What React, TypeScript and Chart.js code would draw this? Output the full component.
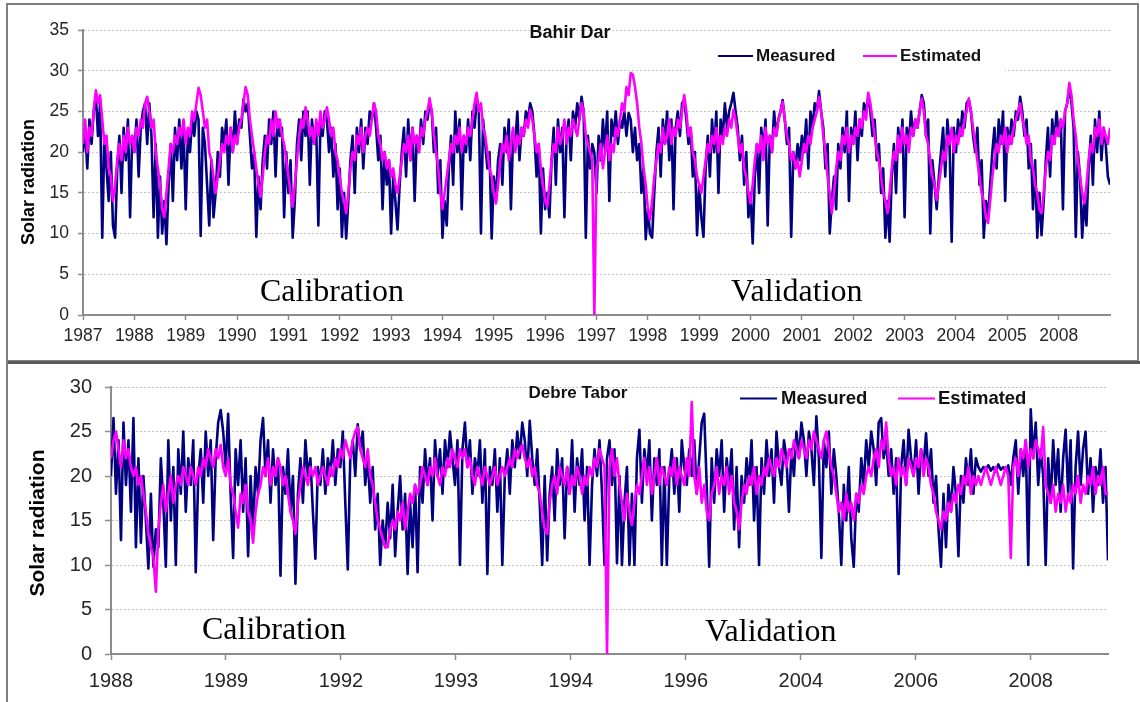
import React, { useEffect, useRef } from 'react';
import { Chart, registerables } from 'chart.js';

Chart.register(...registerables);

// ---------------- DATA ----------------
const topTickLabels = ['1987','1988','1989','1990','1991','1992','1993','1994','1995','1996','1997','1998','1999','2000','2001','2002','2003','2004','2005','2008'];

const topEstimated = [
21,24,20,23,22,25,27.6,26,27,
24,21,22,18,17,14,16,
19,21,19,22,20,23,21,22,20,23,22,24,23,26,26.8,25,
23,24,20,18,16,13,12,15,
18,21,20,22,21,23,22,24,21,23,22,25,24,26,27.9,27,25,
23,24,20,19,17,15,17,
19,21,20,22,21,23,20,22,21,23,24,26,28,27,
24,22,20,18,16,14.5,17,
20,22,21,24,22,25,23,24,22,21,19,17,
15,13.3,16,
19,22,24,23,25.5,24,22,23,21,24,22,25,23,24,25.5,24,
22,23,20,19,17,15,14,12.5,15,
18,20,19,22,21,23,20,22,23,22,24,26,25,
22,21,19,20,18,19,17,18,16,15,17,
19,21,20,22,19,23,21,22,20,23,22,24,25,26.6,25,
22,20,18,15,13,15,17,
19,21,20,22,21,23,20,22,21,23,22,24,26,
27.3,25,26,
23,22,20,18,17,15,13.7,16,
19,21,20,22,19,21,23,20,22,21,23,22,24,23,25.2,24,
22,20,21,18,16,14,13.3,16,
19,21,20,23,21,22,24,21,23,22,24,23,22,24,26,25,
22,21,20,19,0,18,
19,21,18,20,22,19,21,20,23,22,24,26,25,28,27,29.7,29.5,28,26,
23,21,18,16,13,11.7,14,
17,19,21,20,23,21,22,24,21,23,22,24,23,25,27,25,
22,23,20,19,17,16,15,17,
19,21,20,22,21,23,20,22,21,23,22,24,23,25.2,24,
22,20,21,18,17,15,13.7,16,
19,21,20,22,19,23,21,22,20,23,22,24,25,26.2,24,
22,21,19,20,18,19,17,19,
21,20,22,21,23,24,25,26.8,25,
22,20,17,15,12.5,15,
18,20,19,22,21,23,20,22,21,23,22,24,23,25,24,27.3,26,
24,22,20,19,17,15,14,12.5,15,
18,20,19,22,20,23,21,22,20,23,22,24,23,25,26.6,25,
22,21,19,17,16,14.1,16,
18,20,19,22,21,23,20,22,21,23,22,24,25,26.6,25,
23,21,19,17,15,14,12,11.3,14,
17,19,21,20,22,21,23,20,22,21,23,24,25,26,24,
23,21,22,19,18,16,15,13,12.5,15,
18,20,19,22,21,23,22,24,23,25,26,28.5,27,
24,22,19,17,15,13.7,16,
19,21,20,23,22,24,21,23,22,21,23
];

const topMeasured = [
20,23,18,24,21,25,27,22,26,
9.5,22,18,14,20,11,9.5,
18,22,15,23,19,24,12,22,20,24,17,23,25,26,21,26,
22,12,21,9.5,17,10,14,8.7,
16,21,14,23,19,24,18,23,13,22,20,24,22,25,24,9.7,23,
21,16,11,19,12,15,20,
17,23,21,24,16,23,20,25,21,24,23,26.5,25,26,
22,18,20,9.6,17,13,19,
22,18,24,21,25,17,24,22,23,12,20,15,
19,9.5,14,
21,24,19,25,22,25,16,24,21,23,11,24,22,25,24,20,
23,17,21,13,18,9.6,15,9.4,14,
19,22,15,23,20,24,18,23,21,25,24,26,23,
19,22,13,20,16,19,10,17,14,10.5,16,
20,23,17,24,19,23,14,22,20,24,21,25,24,26,25,
20,23,15,19,9.5,14,11,
18,22,16,25,20,24,13,22,20,24,19,25,23,
26.4,25,10,
24,21,18,20,9.4,17,14,19,
21,16,23,20,24,13,22,21,25,19,23,22,25,24,26,25,
22,17,21,10,18,13,15,12,
19,23,16,24,20,23,12,22,24,19,25,23,26,24,26.8,25,
9.5,22,18,21,20,15,
22,19,24,20,25,14,24,22,25,21,24,23,25,22,24.8,24,20,23,19,
21,15,18,9.3,13,10,9.5,
15,20,23,17,24,21,25,19,24,13,23,25,22,26,26.4,24,
21,23,17,20,9.8,16,12,9.6,
18,22,17,24,20,25,15,24,22,26,23,25,26,27.3,25,
23,19,22,16,20,12,15,8.8,
17,21,15,23,20,24,11,22,20,25,22,24,25,26.4,24,
21,23,9.6,20,18,21,19,22,
20,24,18,25,23,26,25,27.5,25,
23,18,21,10,14,17,
13,21,18,23,20,25,14,23,21,25,19,24,22,26,25,26.8,25,
22,24,19,21,15,18,9.5,14,9,
17,21,15,23,20,24,12,23,21,25,22,24,23,25,27,26,
22,24,10,19,16,13,17,
20,23,17,24,21,9,23,20,24,22,25,23,26,26.4,25,
22,20,23,16,19,9.5,14,12,16,
20,23,18,24,21,25,14,23,21,24,22,25,24,26.8,25,
22,24,18,21,13,19,9.5,15,9.8,14,
19,23,17,24,21,25,22,24,13,25,26,28,26,
23,9.6,20,17,9.5,14,11,
18,22,16,24,20,25,19,23,21,17,16
];

const bottomTickLabels = ['1988','1989','1992','1993','1994','1996','2004','2006','2008'];

const bottomEstimated = [
22,24,25,23,21,24,22,23,21,20,
21,19,20,18,16,
13.5,12,11,7,14,
17,19,16,18,20,17,19,
20,19,21,20,19,21,20,19,21,
20,22,21,23,22,21,23,22,23.5,
21,20,22,19,18,16,
14.2,18,17,19,16,15,12.5,16,18,
19,21,20,22,19,21,20,22,21,19,20,
18,16,15,13.5,17,
19,21,20,19,21,20,21,19,20,21,20,19,21,
20,22,21,23,22,24,23,22,24,25,25.5,23,
22,21,23,20,19,17,
15,14,13,12,12,14,15,14,16,
15,17,14,16,18,17,19,18,
19,21,20,19,21,20,22,20,19,21,20,22,
21,23,22,21,23,22,23,21,22,
20,19,21,20,19,21,20,19,20,21,19,20,21,20,
21,22,21,23,22,23,23.5,22,21,
22,20,21,19,18,
16,14,13.5,17,
19,20,18,21,20,19,21,18,20,19,21,20,18,20,19,21,20,
22,21,23,22,21,
0,
21,23,20,22,19,17,15,18,16,14.5,
17,19,18,20,22,19,21,18,20,22,19,21,20,
19,21,20,22,19,21,20,19,22,20,
28.3,
20,18,21,17,19,16,15,18,
19,21,18,20,19,21,18,20,17,16,
14,17,19,18,20,19,21,18,20,
19,21,20,22,21,20,22,21,23,22,21,23,22,24,23,22,24,23,
22,24,23,25,24,23,22,24,25,23,21,20,18,
16,17,15,18,16,17,15,18,17,19,18,20,
21,20,22,23,21,24,23,26,
22,20,21,19,22,20,21,19,22,21,20,22,21,23,20,22,21,
19,18,16,15,14,16,15,17,16,18,
17,19,18,20,19,21,18,20,19,
20,19,20,21,20,19,20,21,20,19,20,21,20,
10.8,
21,22,20,23,22,24,21,23,22,24,23,22,
25.5,
19,18,17,19,16,18,17,19,16,18,17,19,18,20,17,
19,18,20,19,21,18,20,19,21,18,18
];

const bottomMeasured = [
20,26.5,18,24,12.8,26,19,24,16,26.5,
12,22,12.5,20,15,
9.6,18,9.8,14,12,
22,17,9.8,24,15,21,10,
23,18,25,16,22,19,24,9.2,20,
23,17,25,20,24,12.8,22,26,27.4,
25,21,27,18,10.8,23,
19,24,16,22,11,20,14,21,18,
24,26.5,20,24,17,23,19,22,8.8,21,18,
23,16,20,7.9,18,
22,17,24,20,22,16,10.7,21,19,23,18,22,20,
24,19,23,21,25,17,9.5,22,24,20,25.8,23,
25,19,22,17,21,14,
18,10,15,12,17,13,19,11,16,
20,14,18,9,17,12,19,9.2,
21,17,23,19,22,15,24,20,23,18,24,21,
25,22,19,24,10,23,26,21,24,
18,22,20,24,17,23,9,21,19,23,16,22,10,20,
23,18,24,21,25,22,26,24,20,
26.2,22,19,23,17,
10,20,10.5,18,
21,15,23,19,22,13,21,18,24,16,22,19,23,15,21,10,19,
23,20,24,18,10,
22,24,19,23,10.2,20,10,17,21,10,18,
10,22,25.2,17,23,20,24,15,22,19,23,10,21,
10,20,23,18,22,16,24,21,19,23,
20,24,18,22,26,27,19,9.8,22,
17,23,20,24,16,22,19,23,14,21,
12,20,17,22,19,24,15,21,10,
22,18,24,20,23,17,25,21,19,24,22,16,23,20,25,22,26,24,
20,25,23,19,26.7,22,10.8,24,21,25,18,23,20,
16,10,19,15,21,13,9.8,18,16,22,19,24,
21,25,23,19,26,26.5,22,24,
20,23,18,22,9,21,24,19,25.2,22,20,24,18,23,21,24.8,20,
23,17,20,14,9.8,18,12,19,16,21,
18,11,20,17,22,19,23,18,22,
21,20.5,21,20.8,21.2,20.6,21,20.5,21.3,20.7,21,20.6,21.2,
19,22,24,18,23,20,24,10,27.5,22,26,19,23,
20,10,22,17,24,19,23,16,22,25.2,18,24,9.6,21,25,19,
23,25,18,22,16,21,19,23,17,21,10.5
];

const TOP_X_MAX = 20;
const BOTTOM_X_MAX = 8.672;

// ---------------- STYLE ----------------
const SANS = '"Liberation Sans", Arial, Helvetica, sans-serif';
const SERIF = '"Liberation Serif", "Times New Roman", serif';
const NAVY = '#000080';
const MAGENTA = '#FF00FF';
const AXIS = '#8c8c8c';
const GRID = '#c4c4c4';
const TICK_TEXT = '#262626';

function toPoints(values: number[], xMax: number) {
  const step = xMax / (values.length - 1);
  return values.map((y, i) => ({ x: i * step, y }));
}

const topPanel = {
  top: 0, w: 1140, h: 362,
  area: { left: 83, top: 30, right: 1110, bottom: 315 },
  xH: 40,
  yMax: 35,
  xMax: TOP_X_MAX,
  tickLabels: topTickLabels,
  measured: topMeasured,
  estimated: topEstimated,
  tickSize: 17.5, xPad: 6, yPad: 9, tickLen: 5,
  lineM: 2.6, lineE: 2.6,
  yTitle: { x: 29, y: 182, size: 18 },
  title: { text: 'Bahir Dar', x: 570, y: 33, size: 18 },
  legend: { box: [690, 38, 315, 36], y: 56, size: 17, m: [718, 753, 756], e: [863, 897, 900] },
  notes: [ { text: 'Calibration', x: 260, y: 301 }, { text: 'Validation', x: 731, y: 301 } ],
};

const bottomPanel = {
  top: 362, w: 1140, h: 340,
  area: { left: 111, top: 25, right: 1108, bottom: 292 },
  xH: 40,
  yMax: 30,
  xMax: BOTTOM_X_MAX,
  tickLabels: bottomTickLabels,
  measured: bottomMeasured,
  estimated: bottomEstimated,
  tickSize: 20, xPad: 9, yPad: 13, tickLen: 6,
  lineM: 2.6, lineE: 2.6,
  yTitle: { x: 38, y: 161, size: 21 },
  title: { text: 'Debre Tabor', x: 578, y: 31, size: 17 },
  legend: { box: null, y: 36.5, size: 18.5, m: [740, 777, 781], e: [898, 935, 938] },
  notes: [ { text: 'Calibration', x: 202, y: 277 }, { text: 'Validation', x: 705, y: 279 } ],
};

function decorPlugin(p: any) {
  return {
    id: 'decor',
    afterDraw(chart: any) {
      const ctx = chart.ctx;
      ctx.save();
      const lg = p.legend;
      if (lg.box) {
        ctx.fillStyle = '#ffffff';
        ctx.fillRect(lg.box[0], lg.box[1], lg.box[2], lg.box[3]);
      }
      ctx.lineWidth = 2;
      ctx.strokeStyle = NAVY;
      ctx.beginPath(); ctx.moveTo(lg.m[0], lg.y); ctx.lineTo(lg.m[1], lg.y); ctx.stroke();
      ctx.strokeStyle = MAGENTA;
      ctx.beginPath(); ctx.moveTo(lg.e[0], lg.y); ctx.lineTo(lg.e[1], lg.y); ctx.stroke();
      ctx.fillStyle = '#111111';
      ctx.font = `bold ${lg.size}px ${SANS}`;
      ctx.textBaseline = 'middle';
      ctx.textAlign = 'left';
      ctx.fillText('Measured', lg.m[2], lg.y);
      ctx.fillText('Estimated', lg.e[2], lg.y);
      // title
      ctx.font = `bold ${p.title.size}px ${SANS}`;
      ctx.textAlign = 'center';
      ctx.fillText(p.title.text, p.title.x, p.title.y);
      // y title
      ctx.save();
      ctx.translate(p.yTitle.x, p.yTitle.y);
      ctx.rotate(-Math.PI / 2);
      ctx.font = `bold ${p.yTitle.size}px ${SANS}`;
      ctx.fillStyle = '#000000';
      ctx.fillText('Solar radiation', 0, 0);
      ctx.restore();
      // notes
      ctx.font = `32px ${SERIF}`;
      ctx.fillStyle = '#000000';
      ctx.textAlign = 'left';
      ctx.textBaseline = 'alphabetic';
      for (const n of p.notes) ctx.fillText(n.text, n.x, n.y);
      ctx.restore();
    },
  };
}

function buildConfig(p: any): any {
  const nLabels = p.tickLabels.length;
  return {
    type: 'line',
    data: {
      datasets: [
        {
          label: 'Estimated',
          data: toPoints(p.estimated, p.xMax),
          borderColor: MAGENTA,
          borderWidth: p.lineE,
          pointRadius: 0,
          tension: 0,
          borderJoinStyle: 'round',
          order: 0,
        },
        {
          label: 'Measured',
          data: toPoints(p.measured, p.xMax),
          borderColor: NAVY,
          borderWidth: p.lineM,
          pointRadius: 0,
          tension: 0,
          borderJoinStyle: 'round',
          order: 1,
        },
      ],
    },
    options: {
      animation: false,
      responsive: false,
      devicePixelRatio: 1,
      events: [],
      layout: {
        padding: {
          left: 0,
          top: p.area.top,
          right: p.w - p.area.right,
          bottom: p.h - p.area.bottom - p.xH,
        },
      },
      plugins: {
        legend: { display: false },
        title: { display: false },
        tooltip: { enabled: false },
      },
      scales: {
        x: {
          type: 'linear',
          min: 0,
          max: p.xMax,
          afterFit: (s: any) => { s.height = p.xH; },
          ticks: {
            stepSize: 1,
            includeBounds: false,
            autoSkip: false,
            maxRotation: 0,
            minRotation: 0,
            padding: p.xPad,
            color: TICK_TEXT,
            font: { family: SANS, size: p.tickSize },
            callback: (v: number) => (Number.isInteger(v) && v < nLabels ? p.tickLabels[v] : ''),
          },
          grid: {
            drawOnChartArea: false,
            drawTicks: true,
            tickLength: p.tickLen,
            tickWidth: 1.5,
            tickColor: (c: any) => (c.tick && c.tick.value < nLabels ? AXIS : 'rgba(0,0,0,0)'),
          },
          border: { display: true, color: AXIS, width: 2 },
        },
        y: {
          type: 'linear',
          min: 0,
          max: p.yMax,
          afterFit: (s: any) => { s.width = p.area.left; },
          ticks: {
            stepSize: 5,
            padding: p.yPad,
            color: TICK_TEXT,
            font: { family: SANS, size: p.tickSize },
          },
          grid: {
            color: GRID,
            lineWidth: 1,
            drawTicks: true,
            tickLength: p.tickLen,
            tickWidth: 1.5,
            tickColor: AXIS,
          },
          border: { display: true, color: AXIS, width: 2, dash: [2, 2] },
        },
      },
    },
    plugins: [decorPlugin(p)],
  };
}

function Panel({ p }: { p: any }) {
  const ref = useRef<HTMLCanvasElement>(null);
  useEffect(() => {
    if (!ref.current) return;
    const chart = new Chart(ref.current, buildConfig(p));
    return () => chart.destroy();
  }, [p]);
  return (
    <canvas
      ref={ref}
      width={p.w}
      height={p.h}
      style={{ position: 'absolute', left: 0, top: p.top, width: p.w, height: p.h }}
    />
  );
}

export default function App() {
  return (
    <div style={{ position: 'absolute', left: 0, top: 0, width: 1140, height: 702, background: '#ffffff', overflow: 'hidden' }}>
      <Panel p={topPanel} />
      <Panel p={bottomPanel} />
      <div style={{ position: 'absolute', left: 6, top: 3, width: 1133, height: 359, border: '2px solid #7f7f7f', boxSizing: 'border-box' }} />
      <div style={{ position: 'absolute', left: 6, top: 361, width: 1134, height: 3, background: '#5a5a5a' }} />
      <div style={{ position: 'absolute', left: 6, top: 361, width: 2, height: 341, background: '#7f7f7f' }} />
    </div>
  );
}
